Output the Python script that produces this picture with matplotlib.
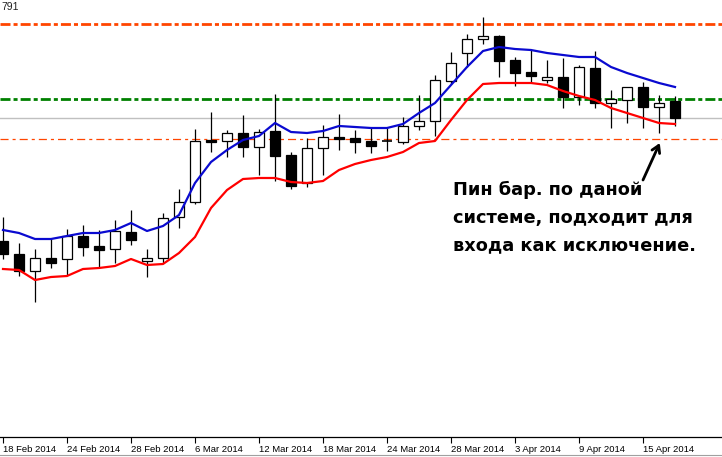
import matplotlib
matplotlib.use("Agg")
import matplotlib.pyplot as plt
from matplotlib.lines import Line2D

# daily candles, 18 Feb 2014 .. 17 Apr 2014
opens = [1.3559, 1.3546, 1.3529, 1.3542, 1.3541, 1.3564, 1.3554, 1.3551, 1.3568, 1.3539,
         1.3542, 1.3583, 1.3598, 1.3660, 1.3659, 1.3667, 1.3653, 1.3669, 1.3645, 1.3617,
         1.3652, 1.3663, 1.3662, 1.3659, 1.3659, 1.3658, 1.3674, 1.3679, 1.3719, 1.3747,
         1.3761, 1.3764, 1.3740, 1.3728, 1.3720, 1.3723, 1.3703, 1.3732, 1.3697, 1.3700,
         1.3713, 1.3693, 1.3699]
highs = [1.3583, 1.3557, 1.3551, 1.3561, 1.3571, 1.3575, 1.3570, 1.3580, 1.3590, 1.3551,
         1.3587, 1.3611, 1.3671, 1.3688, 1.3670, 1.3685, 1.3671, 1.3706, 1.3648, 1.3662,
         1.3675, 1.3686, 1.3670, 1.3672, 1.3672, 1.3683, 1.3705, 1.3725, 1.3748, 1.3766,
         1.3783, 1.3765, 1.3743, 1.3750, 1.3740, 1.3742, 1.3735, 1.3749, 1.3710, 1.3713,
         1.3718, 1.3705, 1.3704]
lows = [1.3541, 1.3524, 1.3498, 1.3532, 1.3525, 1.3544, 1.3532, 1.3537, 1.3555, 1.3523,
        1.3537, 1.3572, 1.3596, 1.3648, 1.3643, 1.3643, 1.3625, 1.3619, 1.3611, 1.3613,
        1.3625, 1.3650, 1.3647, 1.3647, 1.3649, 1.3656, 1.3670, 1.3664, 1.3716, 1.3733,
        1.3756, 1.3723, 1.3714, 1.3718, 1.3717, 1.3692, 1.3695, 1.3692, 1.3672, 1.3677,
        1.3672, 1.3667, 1.3674]
closes = [1.3546, 1.3529, 1.3542, 1.3537, 1.3564, 1.3553, 1.3550, 1.3569, 1.3560, 1.3542,
          1.3582, 1.3598, 1.3659, 1.3658, 1.3667, 1.3653, 1.3668, 1.3644, 1.3614, 1.3652,
          1.3663, 1.3661, 1.3658, 1.3654, 1.3659, 1.3674, 1.3679, 1.3720, 1.3737, 1.3761,
          1.3764, 1.3739, 1.3727, 1.3724, 1.3723, 1.3703, 1.3733, 1.3697, 1.3701, 1.3713,
          1.3693, 1.3697, 1.3682]

upper_band = [1.3570, 1.3567, 1.3561, 1.3561, 1.3564, 1.3567, 1.3567, 1.3570, 1.3577, 1.3569,
              1.3574, 1.3585, 1.3617, 1.3638, 1.3650, 1.3660, 1.3664, 1.3677, 1.3668, 1.3667,
              1.3669, 1.3674, 1.3673, 1.3672, 1.3672, 1.3676, 1.3687, 1.3697, 1.3715, 1.3733,
              1.3749, 1.3753, 1.3751, 1.3750, 1.3747, 1.3745, 1.3743, 1.3743, 1.3733, 1.3727,
              1.3722, 1.3717, 1.3713]
lower_band = [1.3531, 1.3530, 1.3520, 1.3523, 1.3524, 1.3531, 1.3532, 1.3534, 1.3541, 1.3535,
              1.3536, 1.3547, 1.3563, 1.3592, 1.3610, 1.3621, 1.3622, 1.3622, 1.3618, 1.3617,
              1.3619, 1.3630, 1.3636, 1.3640, 1.3643, 1.3648, 1.3657, 1.3659, 1.3680, 1.3700,
              1.3716, 1.3717, 1.3717, 1.3717, 1.3715, 1.3709, 1.3704, 1.3700, 1.3692, 1.3687,
              1.3682, 1.3677, 1.3676]

tick_labels = ["18 Feb 2014", "24 Feb 2014", "28 Feb 2014", "6 Mar 2014", "12 Mar 2014",
               "18 Mar 2014", "24 Mar 2014", "28 Mar 2014", "3 Apr 2014", "9 Apr 2014",
               "15 Apr 2014"]

level_top = 1.3776
level_green = 1.3701
level_gray = 1.3682
level_low = 1.3661

note = "Пин бар. по даной\nсистеме, подходит для\nвхода как исключение."

plt.rcParams["lines.scale_dashes"] = False

fig = plt.figure(figsize=(7.22, 4.57), dpi=100)
ax = fig.add_axes([0, 20 / 457, 1, 437 / 457])

# horizontal levels (behind candles)
ax.axhline(level_top, color="#ff4500", lw=2, dashes=(7.2, 2.2, 2.9, 2.2), zorder=1)
ax.axhline(level_green, color="#008000", lw=2, dashes=(7.2, 2.2, 2.9, 2.2), zorder=1)
ax.axhline(level_gray, color="#c0c0c0", lw=1, zorder=1)
ax.axhline(level_low, color="#ff4500", lw=0.9, dashes=(5.8, 2.9, 2.2, 2.9), zorder=1)

x = list(range(len(opens)))
ax.vlines(x, lows, highs, color="black", lw=0.9, zorder=2)
for i in x:
    o, c = opens[i], closes[i]
    face = "white" if c >= o else "black"
    h = abs(c - o)
    if h < 0.00005:
        ax.hlines(o, i - 0.31, i + 0.31, color="black", lw=1.2, zorder=3)
    else:
        ax.bar(i, h, bottom=min(o, c), width=0.62, color=face,
               edgecolor="black", lw=0.9, zorder=3)

ax.plot(x, upper_band, color="#0a0ad0", lw=1.6, zorder=4)
ax.plot(x, lower_band, color="#ff0000", lw=1.6, zorder=4)

ax.text(28.1, 1.3619, note, fontsize=12.8, fontweight="bold", family="DejaVu Sans",
        va="top", ha="left", linespacing=1.68, color="black", zorder=5)
ax.annotate("", xy=(41.05, 1.3657), xytext=(40.0, 1.3620),
            arrowprops=dict(arrowstyle="->,head_length=0.5,head_width=0.3",
                            lw=2, color="black", shrinkA=0, shrinkB=0))

ax.set_xlim(-3 / 16, 719 / 16)
ax.set_ylim(1.3363, 1.3800)
ax.set_xticks(range(0, len(opens), 4))
ax.set_xticklabels(tick_labels, ha="left", fontsize=6.8, family="Liberation Sans")
ax.tick_params(axis="x", direction="out", length=4, width=0.8, pad=1.5)
ax.set_yticks([])
for s in ["top", "left", "right"]:
    ax.spines[s].set_visible(False)
ax.spines["bottom"].set_linewidth(0.9)

fig.text(1 / 722, 1 - 7 / 457, "791", ha="left", va="center", fontsize=7.5,
         family="Liberation Sans", color="#202020")
fig.add_artist(Line2D([0, 1], [2 / 457, 2 / 457], color="#a0a0a0", lw=0.8))

fig.savefig("out.png", dpi=100)
